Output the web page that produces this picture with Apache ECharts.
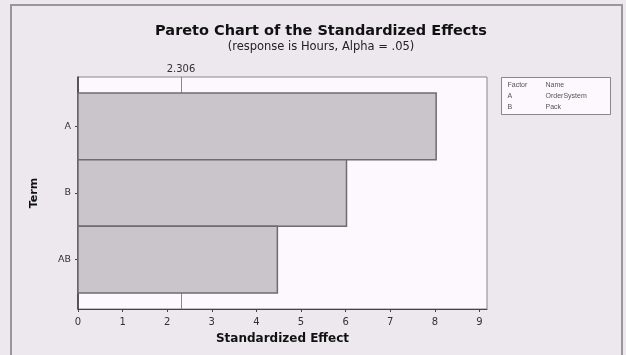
<!DOCTYPE html>
<html>
<head>
<meta charset="utf-8">
<script src="https://cdn.jsdelivr.net/npm/echarts@6/dist/echarts.min.js"></script>
<style>
  html, body { margin: 0; padding: 0; background: #ece8ee; }
  #chart { width: 626px; height: 355px; }
</style>
</head>
<body>
<div id="chart"></div>
<script>
// Standardized effects for each term, largest first
const terms = ['A', 'B', 'AB'];
const effects = [8.03, 6.02, 4.47];
const criticalValue = 2.306;
const xTicks = [0, 1, 2, 3, 4, 5, 6, 7, 8, 9];
const factorCodes = ['A', 'B'];
const factorNames = ['OrderSystem', 'Pack'];

const chart = echarts.init(document.getElementById('chart'), null, { renderer: 'canvas' });

const barData = effects.map((v, i) => [v, i]);

const legendLines = ['{c|Factor}{m|Name}']
  .concat(factorCodes.map((c, i) => '{c|' + c + '}{m|' + factorNames[i] + '}'))
  .join('\n');

chart.setOption({
  backgroundColor: '#ece8ee',
  animation: false,
  title: [{
    text: 'Pareto Chart of the Standardized Effects',
    subtext: '(response is Hours, Alpha = .05)',
    left: 316,
    textAlign: 'center',
    top: 19,
    itemGap: 2,
    textStyle: { fontFamily: 'DejaVu Sans', fontWeight: 'bold', fontSize: 14.5, color: '#111' },
    subtextStyle: { fontFamily: 'DejaVu Sans', fontSize: 11.5, color: '#222' }
  }],
  graphic: [
    // outer frame
    {
      type: 'rect', silent: true, z: -1,
      shape: { x: 11, y: 5, width: 611, height: 360 },
      style: { fill: 'none', stroke: '#9a969c', lineWidth: 2 }
    },
    // factor key
    {
      type: 'group', left: 501, top: 77,
      children: [
        {
          type: 'rect',
          shape: { x: 0, y: 0, width: 109, height: 37 },
          style: { fill: '#fdf8fd', stroke: '#8a868c', lineWidth: 1 }
        },
        {
          type: 'text', x: 6, y: 2,
          style: {
            text: legendLines,
            fontFamily: 'DejaVu Sans', fontSize: 7, lineHeight: 11, fill: '#555',
            rich: {
              c: { width: 38, fontSize: 7, lineHeight: 11, fill: '#555' },
              m: { fontSize: 7, lineHeight: 11, fill: '#555' }
            }
          }
        }
      ]
    }
  ],
  grid: {
    left: 78, right: 139, top: 77, bottom: 46,
    show: true, backgroundColor: '#fdf8fd', borderColor: '#8a868c', borderWidth: 1
  },
  xAxis: {
    type: 'value',
    min: 0, max: 9.17,
    name: 'Standardized Effect',
    nameLocation: 'middle',
    nameGap: 24,
    nameTextStyle: { fontFamily: 'DejaVu Sans', fontWeight: 'bold', fontSize: 12, color: '#111' },
    splitLine: { show: false },
    axisLine: { show: true, onZero: false, lineStyle: { color: '#444', width: 1 } },
    axisTick: { show: true, length: 3, customValues: xTicks, lineStyle: { color: '#444' } },
    axisLabel: { customValues: xTicks, margin: 8, fontFamily: 'DejaVu Sans', fontSize: 10, color: '#333' }
  },
  yAxis: {
    type: 'value',
    inverse: true,
    min: -0.74, max: 2.74,
    name: 'Term',
    nameLocation: 'middle',
    nameGap: 38,
    nameRotate: 90,
    nameTextStyle: { fontFamily: 'DejaVu Sans', fontWeight: 'bold', fontSize: 11, color: '#111' },
    splitLine: { show: false },
    axisLine: { show: true, onZero: false, lineStyle: { color: '#333', width: 1.5 } },
    axisTick: { show: true, length: 3, customValues: terms.map((t, i) => i), lineStyle: { color: '#444' } },
    axisLabel: {
      customValues: terms.map((t, i) => i),
      formatter: v => terms[Math.round(v)],
      margin: 7, fontFamily: 'DejaVu Sans', fontSize: 9.5, color: '#333'
    }
  },
  series: [{
    type: 'custom',
    data: barData,
    encode: { x: 0, y: 1 },
    renderItem: function (params, api) {
      const v = api.value(0);
      const c = api.value(1);
      const p0 = api.coord([0, c - 0.5]);
      const p1 = api.coord([v, c + 0.5]);
      return {
        type: 'rect',
        shape: { x: p0[0], y: p0[1], width: p1[0] - p0[0], height: p1[1] - p0[1] },
        style: { fill: '#c9c5ca', stroke: '#6f6b70', lineWidth: 1.5 }
      };
    },
    markLine: {
      silent: true,
      symbol: 'none',
      z: 1,
      lineStyle: { color: '#8a868c', width: 1, type: 'solid' },
      label: {
        show: true, position: 'start', distance: 3,
        formatter: String(criticalValue),
        fontFamily: 'DejaVu Sans', fontSize: 10, color: '#333'
      },
      data: [{ xAxis: criticalValue }]
    }
  }]
});
</script>
</body>
</html>
